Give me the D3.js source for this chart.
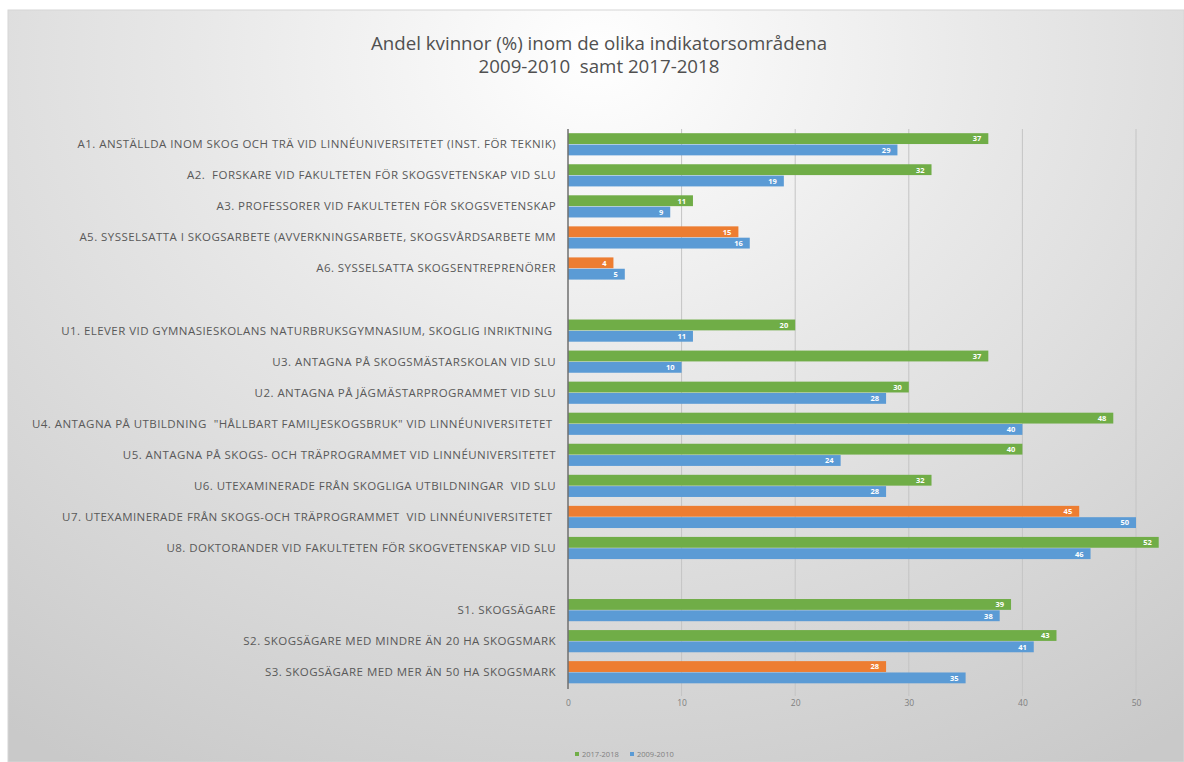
<!DOCTYPE html>
<html>
<head>
    <meta charset="utf-8">
    <title>Andel kvinnor</title>
    <script type="text/javascript" src="https://cdn.jsdelivr.net/npm/d3@7/dist/d3.min.js"></script>

    <style>
        body {
            margin: 0;
            background: #fff;
        }

        text {
            font-family: "Open Sans", Lato, sans-serif;
            white-space: pre;
        }

        g.y path.domain, g.y g.tick line {
            stroke: none;
        }

        g.x path.domain {
            stroke: none;
        }
    </style>
</head>

<body>

<script type="text/javascript">
var categories = [
    "A1. ANSTÄLLDA INOM SKOG OCH TRÄ VID LINNÉUNIVERSITETET (INST. FÖR TEKNIK)",
    "A2.  FORSKARE VID FAKULTETEN FÖR SKOGSVETENSKAP VID SLU",
    "A3. PROFESSORER VID FAKULTETEN FÖR SKOGSVETENSKAP",
    "A5. SYSSELSATTA I SKOGSARBETE (AVVERKNINGSARBETE, SKOGSVÅRDSARBETE MM",
    "A6. SYSSELSATTA SKOGSENTREPRENÖRER",
    "",
    "U1. ELEVER VID GYMNASIESKOLANS NATURBRUKSGYMNASIUM, SKOGLIG INRIKTNING ",
    "U3. ANTAGNA PÅ SKOGSMÄSTARSKOLAN VID SLU",
    "U2. ANTAGNA PÅ JÄGMÄSTARPROGRAMMET VID SLU",
    "U4. ANTAGNA PÅ UTBILDNING  \"HÅLLBART FAMILJESKOGSBRUK\" VID LINNÉUNIVERSITETET ",
    "U5. ANTAGNA PÅ SKOGS- OCH TRÄPROGRAMMET VID LINNÉUNIVERSITETET",
    "U6. UTEXAMINERADE FRÅN SKOGLIGA UTBILDNINGAR  VID SLU",
    "U7. UTEXAMINERADE FRÅN SKOGS-OCH TRÄPROGRAMMET  VID LINNÉUNIVERSITETET ",
    "U8. DOKTORANDER VID FAKULTETEN FÖR SKOGVETENSKAP VID SLU",
    "",
    "S1. SKOGSÄGARE",
    "S2. SKOGSÄGARE MED MINDRE ÄN 20 HA SKOGSMARK",
    "S3. SKOGSÄGARE MED MER ÄN 50 HA SKOGSMARK"
];

var values2017 = [37, 32, 11, 15, 4, null, 20, 37, 30, 48, 40, 32, 45, 52, null, 39, 43, 28];
var values2009 = [29, 19, 9, 16, 5, null, 11, 10, 28, 40, 24, 28, 50, 46, null, 38, 41, 35];

var seriesNames = ["2017-2018", "2009-2010"];
var xTicks = [0, 10, 20, 30, 40, 50];
var titleLines = ["Andel kvinnor (%) inom de olika indikatorsområdena", "2009-2010  samt 2017-2018"];

var width = 1184, height = 762,
        margins = {top: 129, left: 568, right: 48, bottom: 74};

var green = "#70ad47", blue = "#5b9bd5", orange = "#ed7d31";

var svg = d3.select("body").append("svg")
        .attr("width", width)
        .attr("height", height);

// background panel with soft radial shading
var grad = svg.append("defs").append("radialGradient")
        .attr("id", "bg")
        .attr("cx", "0.5").attr("cy", "0.06")
        .attr("r", "0.85")
        .attr("gradientTransform", "translate(0.5,0.06) scale(1,1.3) translate(-0.5,-0.06)");
grad.append("stop").attr("offset", "0").attr("stop-color", "#ffffff");
grad.append("stop").attr("offset", "0.4").attr("stop-color", "#e8e8e8");
grad.append("stop").attr("offset", "1").attr("stop-color", "#c9c9c9");

svg.append("rect")
        .attr("x", 8).attr("y", 10)
        .attr("width", width - 8).attr("height", height - 10)
        .attr("fill", "url(#bg)")
        .attr("stroke", "#d6d6d6");

svg.append("text")
        .attr("x", 599)
        .attr("y", 50)
        .attr("text-anchor", "middle")
        .style("font-size", "18.7px")
        .style("fill", "#505050")
        .selectAll("tspan")
        .data(titleLines)
        .enter().append("tspan")
        .attr("x", 599)
        .attr("dy", function (d, i) { return i ? 23 : 0; })
        .text(function (d) { return d; });

var x = d3.scaleLinear()
        .domain([0, 50])
        .range([margins.left, width - margins.right]);

var y = d3.scaleBand()
        .domain(d3.range(categories.length))
        .range([margins.top, height - margins.bottom])
        .paddingInner(0.27)
        .paddingOuter(0.135);

var rowY = d3.scaleBand()
        .domain(seriesNames)
        .range([0, y.bandwidth()]);

// grid lines
svg.append("g")
        .selectAll("line")
        .data(xTicks.slice(1))
        .enter().append("line")
        .attr("x1", function (d) { return x(d); })
        .attr("x2", function (d) { return x(d); })
        .attr("y1", margins.top)
        .attr("y2", height - margins.bottom + 8)
        .attr("stroke", "#c4c4c4")
        .attr("stroke-width", 1);

// x axis labels
var xAxis = d3.axisBottom(x)
        .tickValues(xTicks)
        .tickSize(0)
        .tickPadding(12);

svg.append("g")
        .attr("class", "x axis")
        .attr("transform", "translate(0," + (height - margins.bottom) + ")")
        .call(xAxis)
        .selectAll("text")
        .style("font-size", "8.5px")
        .style("fill", "#7f7f7f")
        .style("font-family", "\"Open Sans\", sans-serif");

// category labels
var yAxis = d3.axisLeft(y)
        .tickFormat(function (i) { return categories[i]; })
        .tickSize(0)
        .tickPadding(12);

svg.append("g")
        .attr("class", "y axis")
        .attr("transform", "translate(" + margins.left + ",0)")
        .call(yAxis)
        .selectAll("text")
        .style("font-size", "11.5px")
        .style("letter-spacing", "0.45px")
        .style("fill", "#595959")
        .style("font-family", "\"Open Sans\", sans-serif");

// bars
var rows = [];
categories.forEach(function (c, i) {
    if (values2017[i] == null) return;
    rows.push({i: i, series: seriesNames[0], value: values2017[i],
        color: values2017[i] < values2009[i] ? orange : green});
    rows.push({i: i, series: seriesNames[1], value: values2009[i], color: blue});
});

var bars = svg.append("g").attr("class", "bars")
        .selectAll("g.bar")
        .data(rows)
        .enter().append("g")
        .attr("class", "bar")
        .attr("transform", function (d) {
            return "translate(0," + (y(d.i) + rowY(d.series)) + ")";
        });

bars.append("rect")
        .attr("x", x(0))
        .attr("y", 0)
        .attr("width", function (d) { return x(d.value) - x(0); })
        .attr("height", rowY.bandwidth() - 0.5)
        .attr("fill", function (d) { return d.color; });

bars.append("text")
        .attr("x", function (d) { return x(d.value) - 7; })
        .attr("y", rowY.bandwidth() / 2)
        .attr("dy", "0.35em")
        .attr("text-anchor", "end")
        .style("font-size", "7.5px")
        .style("font-weight", "bold")
        .style("fill", "#ffffff")
        .text(function (d) { return d.value; });

// y axis line
svg.append("line")
        .attr("x1", x(0)).attr("x2", x(0))
        .attr("y1", margins.top)
        .attr("y2", height - margins.bottom + 1)
        .attr("stroke", "#6f6f6f")
        .attr("stroke-width", 1.5);

// legend
var legend = svg.append("g")
        .attr("transform", "translate(575,755)")
        .selectAll("g")
        .data(seriesNames)
        .enter().append("g")
        .attr("transform", function (d, i) { return "translate(" + (i * 55) + ",0)"; });

legend.append("rect")
        .attr("x", 0).attr("y", -3)
        .attr("width", 4).attr("height", 4)
        .attr("fill", function (d, i) { return i ? blue : green; });

legend.append("text")
        .attr("x", 7)
        .attr("y", 0)
        .attr("dy", "0.3em")
        .style("font-size", "7.5px")
        .style("fill", "#7f7f7f")
        .text(function (d) { return d; });
</script>

</body>

</html>
